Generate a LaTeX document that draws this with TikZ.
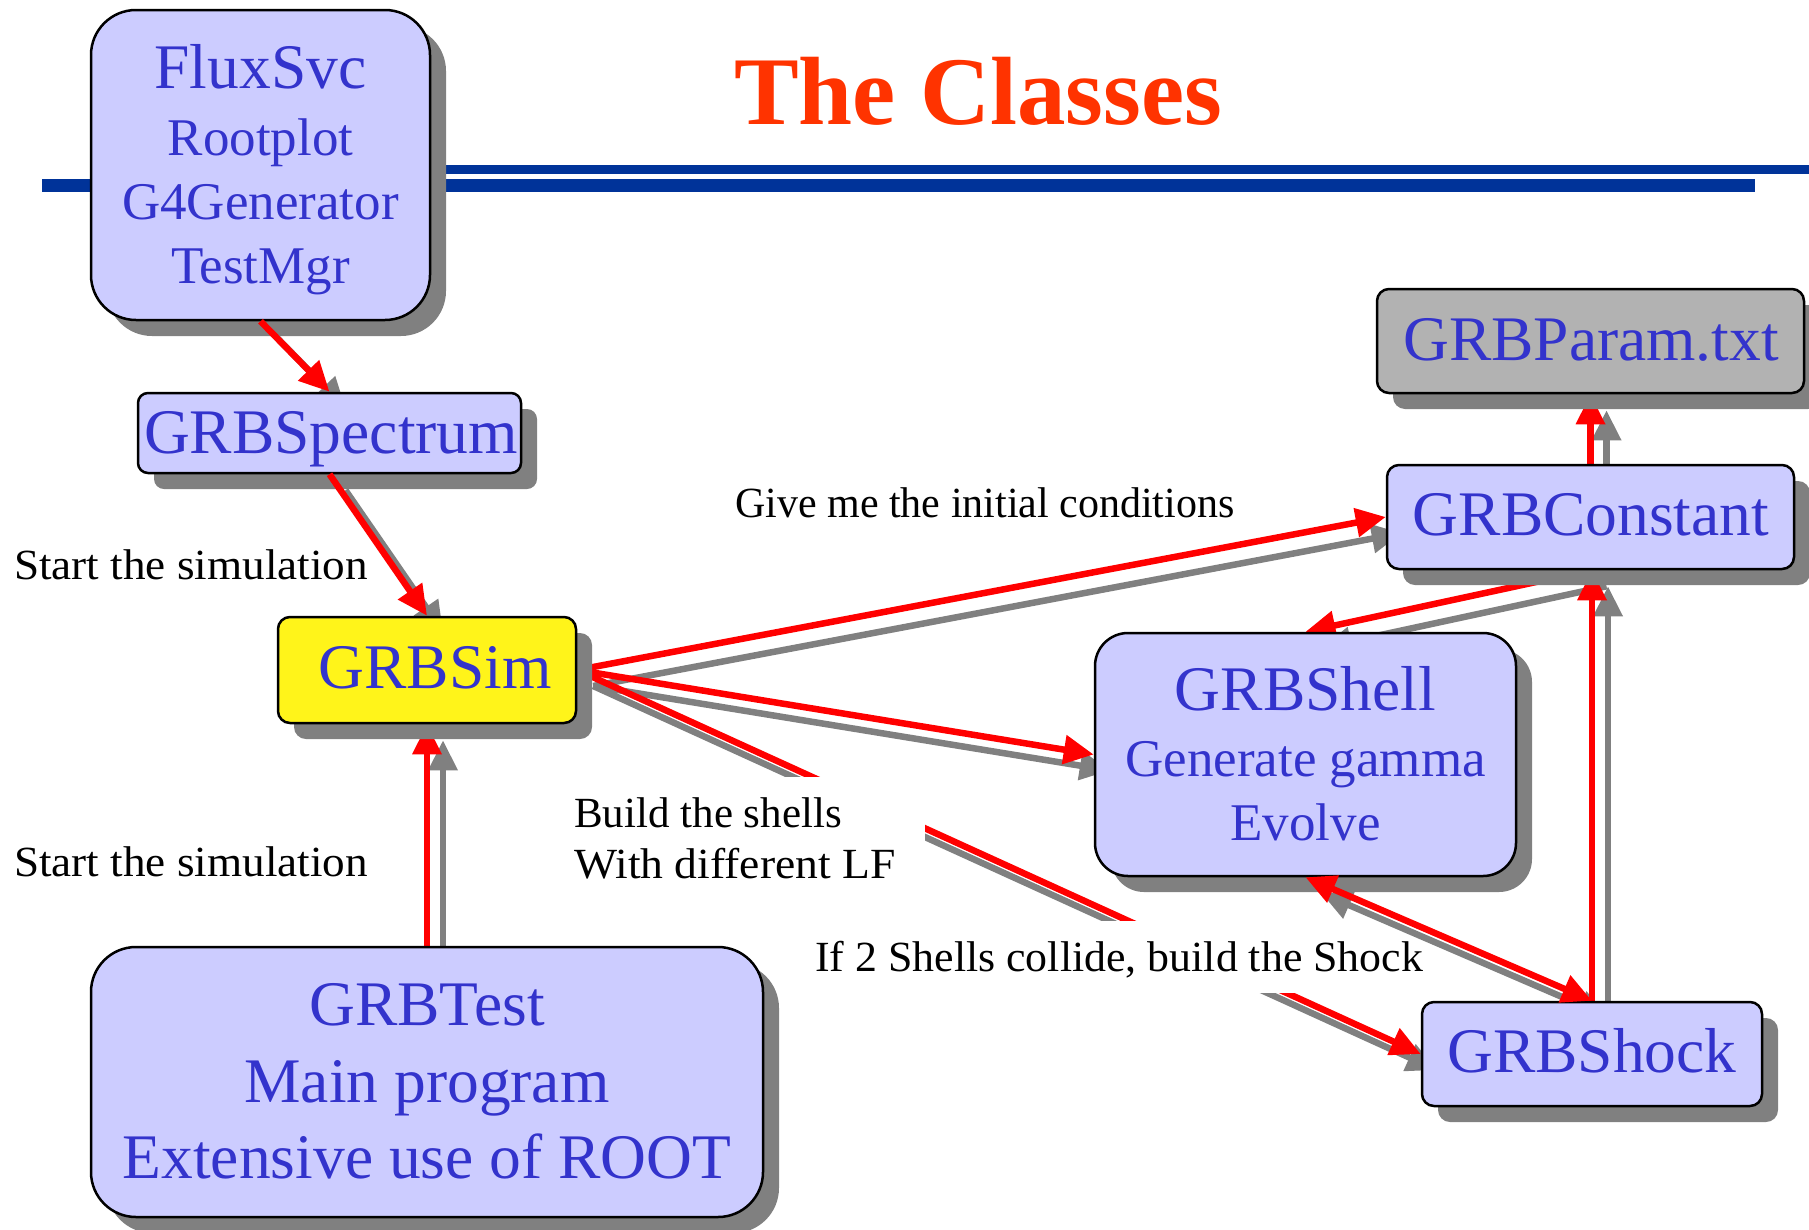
\documentclass[tikz,border=0pt]{standalone}
\usepackage{graphicx}
\usepackage{fontspec}
\setmainfont{Liberation Serif}
\usetikzlibrary{arrows.meta,shadows,calc}
\definecolor{boxfill}{HTML}{CCCCFF}
\definecolor{txtblue}{HTML}{3333CC}
\definecolor{shadowgray}{HTML}{808080}
\definecolor{paramgray}{HTML}{B2B2B2}
\definecolor{simyellow}{HTML}{FFF41A}
\definecolor{headblue}{HTML}{003399}
\definecolor{titlered}{HTML}{FF3300}
\definecolor{arrowred}{HTML}{FF0000}
\pgfdeclarelayer{shadowlayer}
\pgfdeclarelayer{backlines}
\pgfsetlayers{shadowlayer,backlines,main}
\newcommand\myBig{\fontsize{63.5pt}{70pt}\selectfont}
\newcommand\mySmall{\fontsize{53pt}{60pt}\selectfont}
\newcommand\myLab{\fontsize{43pt}{50pt}\selectfont}
\newcommand\myTitle{\fontsize{97pt}{100pt}\selectfont\bfseries}
\tikzset{
  classbox/.style={draw=black, line width=2.5pt, fill=boxfill, inner sep=0pt,
    drop shadow={shadow xshift=16pt, shadow yshift=-16pt, fill=shadowgray, opacity=1}},
  btext/.style={text=txtblue, inner sep=0pt, anchor=base},
  lab/.style={text=black, inner sep=0pt, anchor=base west, font=\myLab},
  whitebg/.style={fill=white, draw=none, inner sep=0pt},
  rline/.style={draw=arrowred, line width=6.5pt, >={Triangle[length=30pt,width=28pt]}, ->},
  gline/.style={draw=shadowgray, line width=6.5pt, >={Triangle[length=30pt,width=28pt]}, ->,
    transform canvas={shift={(16pt,-16pt)}}},
  headline/.style={draw=headblue}
}
\begin{document}
\begin{tikzpicture}[x=1pt,y=-1pt]
\useasboundingbox (0,0) rectangle (1809,1229);
% boxes
\node[classbox, rounded corners=45pt, minimum width=339pt, minimum height=310pt] (flux) at (260.5,165) {};
\node[classbox, rounded corners=10pt, minimum width=383pt, minimum height=80pt] (spec) at (329.5,433) {};
\node[classbox, fill=simyellow, rounded corners=12pt, minimum width=298pt, minimum height=106pt] (sim) at (427,670) {};
\node[classbox, rounded corners=45pt, minimum width=672pt, minimum height=270pt] (test) at (427,1082) {};
\node[classbox, rounded corners=12pt, minimum width=407pt, minimum height=104pt] (const) at (1590.5,517) {};
\node[classbox, fill=paramgray, rounded corners=12pt, minimum width=427pt, minimum height=104pt] (param) at (1590.5,341) {};
\node[classbox, rounded corners=33pt, minimum width=421pt, minimum height=243pt] (shell) at (1305.5,754.5) {};
\node[classbox, rounded corners=12pt, minimum width=340pt, minimum height=104pt] (shock) at (1592,1054) {};
% header lines and connector shadows
\begin{pgfonlayer}{shadowlayer}
\draw[headline, line width=9pt] (300,169.5) -- (1809,169.5);
\draw[headline, line width=13pt] (42,185.5) -- (1755,185.5);
\draw[gline] (flux.south) -- (spec.north);
\draw[gline] (spec.south) -- (sim.north);
\draw[gline] (test.north) -- (sim.south);
\draw[gline] (sim.east) -- (const.west);
\draw[gline] (sim.east) -- (shell.west);
\draw[gline] (sim.east) -- (shock.west);
\draw[gline] (const.south) -- (shell.north);
\draw[gline] (shock.north) -- (shock.north |- const.south);
\draw[gline] (const.north) -- (param.south);
\draw[gline, <->] (shell.south) -- (shock.north);
\end{pgfonlayer}
% red connectors behind the box shadows
\begin{pgfonlayer}{backlines}
\draw[rline] (test.north) -- (sim.south);
\draw[rline] (sim.east) -- (const.west);
\draw[rline] (sim.east) -- (shell.west);
\draw[rline] (sim.east) -- (shock.west);
\draw[rline] (const.south) -- (shell.north);
\draw[rline] (shock.north) -- (shock.north |- const.south);
\draw[rline] (const.north) -- (param.south);
\end{pgfonlayer}
% red connectors over the box shadows
\draw[rline] (flux.south) -- (spec.north);
\draw[rline] (spec.south) -- (sim.north);
\draw[rline, <->] (shell.south) -- (shock.north);
% white label backgrounds
\node[whitebg, minimum width=368pt, minimum height=120pt] (bgbuild) at (741,837) {};
\node[whitebg, minimum width=555pt, minimum height=72pt] (bgcollide) at (1087.5,957) {};
% title
\node[text=titlered, inner sep=0pt, anchor=base, font=\myTitle] (title) at (978,124) {The Classes};
% box texts
\node[btext, font=\myBig] (tflux) at (260.5,88) {FluxSvc};
\node[btext, font=\mySmall] (troot) at (260.5,155) {Rootplot};
\node[btext, font=\mySmall] (tg4) at (260.5,219) {G4Generator};
\node[btext, font=\mySmall] (tmgr) at (260.5,283) {TestMgr};
\node[btext, font=\myBig] (tspec) at (331,453) {GRBSpectrum};
\node[btext, font=\myBig] (tsim) at (435,688) {GRBSim};
\node[btext, font=\myBig] (ttest) at (427,1025) {GRBTest};
\node[btext, font=\myBig] (tmain) at (427,1102) {Main program};
\node[btext, font=\myBig] (text) at (427,1178) {Extensive use of ROOT};
\node[btext, font=\myBig] (tconst) at (1591,535) {GRBConstant};
\node[btext, font=\myBig] (tparam) at (1591,360) {GRBParam.txt};
\node[btext, font=\myBig] (tshell) at (1305.5,710) {GRBShell};
\node[btext, font=\mySmall] (tgen) at (1305.5,776) {Generate gamma};
\node[btext, font=\mySmall] (tevo) at (1305.5,840) {Evolve};
\node[btext, font=\myBig] (tshock) at (1592,1072) {GRBShock};
% labels
\node[lab] (lgive) at (735,517) {\scalebox{0.977}[1]{Give me the initial conditions}};
\node[lab] (lstart1) at (14,579) {\scalebox{1.05}[1]{Start the simulation}};
\node[lab] (lstart2) at (14,876) {\scalebox{1.05}[1]{Start the simulation}};
\node[lab] (lbuild1) at (574,827) {Build the shells};
\node[lab] (lbuild2) at (574,878) {\scalebox{1.06}[1]{With different LF}};
\node[lab] (lcoll) at (815,971) {\scalebox{1.02}[1]{If 2 Shells collide, build the Shock}};
\end{tikzpicture}
\end{document}
